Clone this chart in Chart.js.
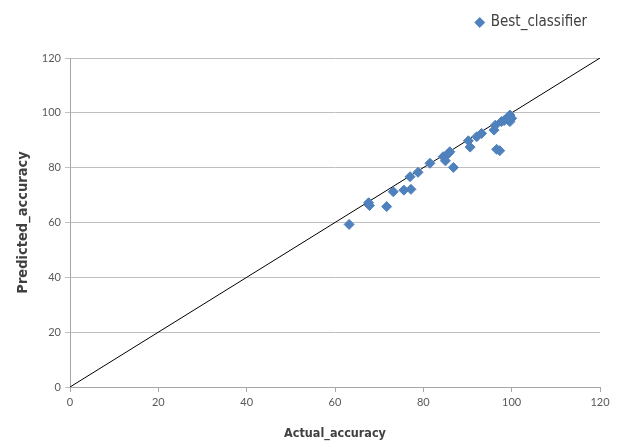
<!DOCTYPE html>
<html lang="en">
<head>
    <meta charset="UTF-8">
    <title>Best classifier</title>
    <script src="https://cdn.jsdelivr.net/npm/chart.js"></script>
    <style>
        html, body { margin: 0; padding: 0; background: #fff; }
        #wrap { width: 619px; height: 448px; }
    </style>
</head>
<body>
<div id="wrap"><canvas id="accChart" width="619" height="448"></canvas></div>
<script>
    // Values
    const actualAccuracy = [63.2, 67.6, 67.8, 71.7, 73.2, 75.6, 77.2, 77.0, 78.8, 81.5,
        84.5, 85.0, 85.7, 86.0, 86.8, 90.2, 90.6, 92.1, 93.2, 96.0,
        96.3, 96.6, 97.3, 97.7, 98.3, 98.9, 99.6, 99.6, 100.0, 99.2];
    const predictedAccuracy = [59.3, 67.2, 66.2, 65.8, 71.2, 71.8, 72.1, 76.7, 78.3, 81.6,
        84.0, 82.5, 85.2, 85.8, 80.1, 89.8, 87.5, 91.3, 92.5, 93.7,
        95.5, 86.7, 86.2, 96.8, 97.2, 98.0, 99.2, 96.8, 98.0, 97.5];
    const axisTicks = [0, 20, 40, 60, 80, 100, 120];
    const diagonalLine = [0, 120];

    const narrow = "'Liberation Sans Narrow', 'DejaVu Sans Condensed', Lato";
    const tickFont = { family: 'Lato', size: 11 };

    // legend takes the band above the plot (plot starts at y=58), sits a bit left of the edge
    const legendBand = {
        id: 'legendBand',
        afterInit(chart) {
            const lg = chart.legend;
            if (!lg) return;
            const fit = lg.fit;
            lg.fit = function () {
                fit.call(this);
                this.height = 58;
            };
        },
        afterLayout(chart) {
            if (chart.legend) chart.legend.right -= 13;
        }
    };

    new Chart(document.getElementById('accChart'), {
        type: 'scatter',
        data: {
            datasets: [{
                label: 'Best_classifier',
                data: actualAccuracy.map((a, i) => ({ x: a, y: predictedAccuracy[i] })),
                pointStyle: 'rectRot',
                pointRadius: 5,
                pointHoverRadius: 5,
                backgroundColor: '#4f81bd',
                borderColor: '#4f81bd',
                borderWidth: 1
            }, {
                label: 'diag',
                type: 'line',
                data: diagonalLine.map(v => ({ x: v, y: v })),
                borderColor: '#000',
                borderWidth: 1,
                pointRadius: 0,
                fill: false
            }]
        },
        plugins: [legendBand],
        options: {
            responsive: false,
            animation: false,
            layout: { padding: { left: 0, right: 4, top: 0, bottom: 0 } },
            plugins: {
                tooltip: { enabled: false },
                legend: {
                    position: 'top',
                    align: 'end',
                    labels: {
                        filter: item => item.text !== 'diag',
                        usePointStyle: true,
                        pointStyle: 'rectRot',
                        boxWidth: 7,
                        boxHeight: 7,
                        padding: 15,
                        color: '#404040',
                        font: { family: narrow, size: 15 }
                    }
                }
            },
            scales: {
                x: {
                    type: 'linear',
                    min: 0, max: 120,
                    afterBuildTicks: s => { s.ticks = axisTicks.map(v => ({ value: v })); },
                    afterFit: s => { s.height = 61; },
                    grid: { drawOnChartArea: false, color: '#a6a6a6', tickLength: 5 },
                    border: { color: '#a6a6a6' },
                    ticks: { color: '#595959', font: tickFont, padding: 4 },
                    title: { display: true, text: 'Actual_accuracy', color: '#404040', font: { family: narrow, size: 12.5, weight: 'bold' }, padding: { top: 4, bottom: 7 } }
                },
                y: {
                    type: 'linear',
                    min: 0, max: 120,
                    afterBuildTicks: s => { s.ticks = axisTicks.map(v => ({ value: v })); },
                    afterFit: s => { s.width = 70; },
                    grid: { color: '#bfbfbf', tickLength: 5 },
                    border: { color: '#a6a6a6' },
                    ticks: { color: '#595959', font: tickFont, padding: 4 },
                    title: { display: true, text: 'Predicted_accuracy', color: '#404040', font: { family: narrow, size: 14.5, weight: 'bold' }, padding: { top: 15, bottom: 4 } }
                },
                // empty right-hand strip so the plot stops at x=600
                rightGap: {
                    type: 'linear',
                    position: 'right',
                    display: true,
                    afterFit: s => { s.width = 15; },
                    grid: { display: false },
                    border: { display: false },
                    ticks: { display: false }
                }
            }
        }
    });
</script>
</body>
</html>
